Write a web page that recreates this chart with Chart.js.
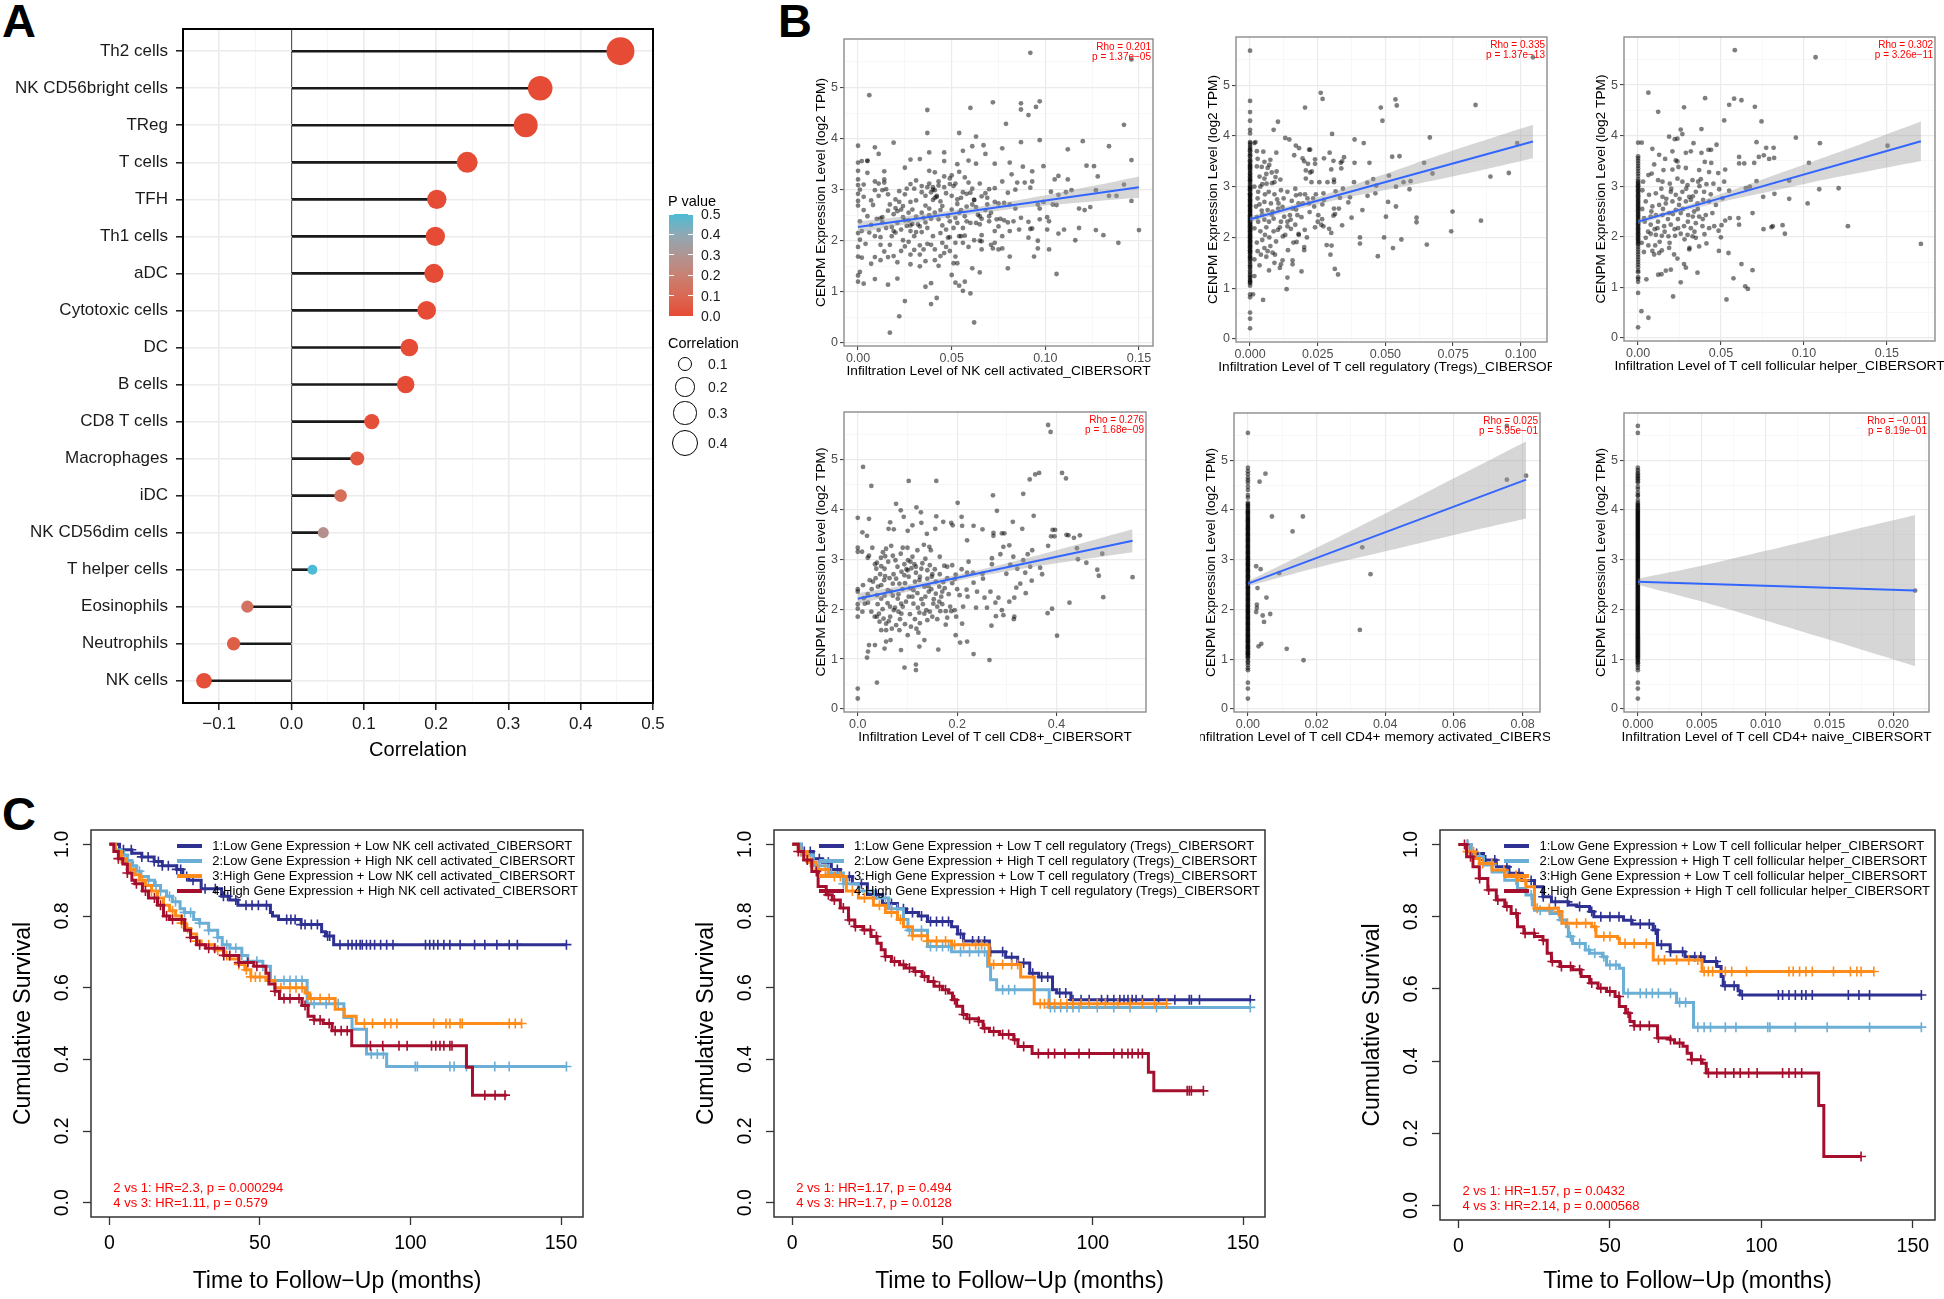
<!DOCTYPE html>
<html>
<head>
<meta charset="utf-8">
<title>CENPM immune infiltration</title>
<script src="https://cdn.jsdelivr.net/npm/chart.js@4.4.1/dist/chart.umd.min.js"></script>
<style>
  html, body { margin: 0; padding: 0; background: #fff; }
  body { position: relative; width: 1944px; height: 1299px; overflow: hidden;
         font-family: 'Liberation Sans', Arial, Helvetica, sans-serif; color: #000; }
  canvas { position: absolute; }
  .letter { position: absolute; font-size: 47px; font-weight: bold; line-height: 1; }
  .txt { position: absolute; white-space: nowrap; }
</style>
</head>
<body>
<div class="letter" style="left:2px;top:-3px">A</div>
<div class="letter" style="left:778px;top:-3px">B</div>
<div class="letter" style="left:2px;top:790px">C</div>
<script>
// ---------- A: correlation of CENPM with immune cell types
const cellTypes = ['Th2 cells', 'NK CD56bright cells', 'TReg', 'T cells', 'TFH', 'Th1 cells', 'aDC',
  'Cytotoxic cells', 'DC', 'B cells', 'CD8 T cells', 'Macrophages', 'iDC', 'NK CD56dim cells',
  'T helper cells', 'Eosinophils', 'Neutrophils', 'NK cells'];
const correlation = [0.455, 0.344, 0.324, 0.243, 0.201, 0.199, 0.197, 0.187, 0.163, 0.158, 0.111,
  0.091, 0.068, 0.044, 0.029, -0.061, -0.080, -0.121];
const pValue = [0, 0, 0, 0, 0, 0, 0, 0, 0, 0.001, 0.01, 0.03, 0.12, 0.28, 0.5, 0.14, 0.06, 0.01];
const pTicks = [0.5, 0.4, 0.3, 0.2, 0.1, 0.0];
const sizeBreaks = [0.1, 0.2, 0.3, 0.4];

// ---------- B: scatter plots, CENPM vs infiltration level
const nkActPts = [[.092,5.68],[.146,5.55],[.006,4.85],[.037,4.56],[.072,4.71],[.087,4.69],[.087,4.57],[.097,4.73],[.095,4.62],[.091,4.46],[.060,4.60],[.079,4.29],[.142,4.27],[.037,4.11],[.054,4.11],[.063,4.04],[.097,3.97],[.120,3.95],[.087,3.93],[.134,3.85],[0,3.86],[.009,3.83],[.019,3.92],[.011,3.70],[.038,3.73],[.046,3.73],[.061,3.85],[.067,3.87],[.068,3.70],[.077,3.81],[.112,3.79],[.056,3.76],[.053,3.50],[.059,3.57],[.033,3.60],[.028,3.59],[.002,3.56],[.005,3.56],[0,3.53],[.025,3.43],[.046,3.56],[.063,3.51],[.073,3.51],[.081,3.53],[.099,3.46],[.122,3.47],[.126,3.46],[.146,3.58],[.088,3.45],[.093,3.36],[.128,3.26],[.142,3.10],[.138,2.88],[.146,2.78],[.134,2.88],[.150,2.21],[.139,1.96],[.131,2.11],[.127,2.21],[.118,2.25],[.116,2.01],[.124,2.66],[.121,2.60],[.118,2.63],[.127,2.99],[.114,2.99],[.111,2.95],[.112,3.20],[.107,3.27],[.105,3.20],[.103,2.96],[.107,2.90],[.106,2.70],[.104,2.71],[.101,2.46],[.102,2.38],[.101,2.22],[.107,2.14],[.110,2.22],[.106,1.35],[.102,1.83],[.096,2.00],[.094,1.69],[.096,1.85],[.097,2.42],[.097,2.63],[.099,2.76],[.096,2.71],[.092,3.04],[.093,3.16],[.089,3.14],[.085,3.14],[.082,3.30],[.077,3.16],[.073,3.03],[.070,3.01],[.068,2.93],[.069,2.84],[.073,2.76],[.075,2.73],[.078,2.74],[.080,2.94],[.084,3.00],[.081,2.71],[.084,2.63],[.087,2.45],[.091,2.37],[.092,2.23],[.093,2.24],[.091,2.06],[.086,2.22],[.081,2.19],[.080,2.36],[.077,2.09],[.076,2.43],[.073,2.19],[.073,1.96],[.077,1.85],[.081,1.69],[.080,1.46],[.071,1.92],[.066,2.11],[.065,2.00],[.066,2.43],[.065,2.48],[.063,2.66],[.061,2.71],[.062,2.80],[.058,2.92],[.055,2.84],[.053,2.81],[.050,2.88],[.052,3.12],[.049,3.22],[.049,3.11],[.050,3.28],[.046,3.26],[.043,3.16],[.041,2.99],[.041,2.84],[.040,3.05],[.041,3.34],[.038,3.37],[.042,2.88],[.045,2.68],[.048,2.48],[.050,2.61],[.054,2.55],[.057,2.48],[.056,2.25],[.055,2.09],[.057,2.10],[.056,1.96],[.059,1.88],[.062,2.01],[.066,1.99],[.052,1.69],[.051,1.56],[.053,1.56],[.050,1.33],[.052,1.18],[.054,1.12],[.056,1.02],[.057,1.20],[.060,0.97],[.062,0.40],[.061,1.46],[.065,1.38],[.046,1.76],[.043,1.51],[.041,1.83],[.037,1.94],[.035,1.83],[.033,1.91],[.033,1.73],[.030,2.09],[.032,2.32],[.035,2.45],[.036,2.69],[.038,2.63],[.039,2.43],[.037,2.25],[.039,1.17],[.036,1.10],[.039,0.76],[.042,0.88],[.028,1.54],[.028,1.73],[.025,1.89],[.024,2.01],[.023,2.22],[.021,2.35],[.019,2.19],[.018,2.09],[.017,1.92],[.016,1.68],[.021,1.58],[.021,1.26],[.025,0.82],[.022,0.52],[.017,0.20],[.016,1.14],[.009,1.25],[.003,1.16],[.001,1.39],[0,1.32],[0,1.20],[0,1.69],[.002,1.67],[.009,1.68],[.004,1.94],[.009,2.09],[.012,2.07],[.012,1.92],[.014,1.79],[0,1.88],[0,2.15],[.002,2.19],[.001,2.38],[.006,2.16],[.007,2.31],[.010,2.43],[.012,2.44],[.013,2.46],[.016,2.59],[.019,2.52],[.021,2.58],[.023,2.61],[.024,2.68],[.022,2.76],[.020,2.81],[.016,2.91],[.013,2.99],[.007,2.79],[0,2.78],[0,2.69],[0,2.92],[0,3.09],[0,3.20],[0,3.37],[.003,3.10],[.005,3.33],[.005,3.57],[.009,3.16],[.011,3.12],[.014,3.14],[.014,3.20],[.014,3.36],[.009,2.99],[.015,3.01],[.025,2.91],[.022,2.97],[.026,3.02],[.028,3.11],[.031,3.18],[.030,3.02],[.034,3.07],[.040,3.00],[.042,2.86],[.031,2.79],[.028,2.76],[.029,2.61],[.027,2.55],[.028,2.30],[.025,2.40],[.034,2.17],[.044,2.15],[.045,1.96],[.048,2.06],[.040,2.09],[.039,1.92],[.031,2.17],[.028,2.19],[.011,2.21],[.018,2.27],[.051,3.07],[.054,3.35],[.057,3.24],[.059,3.14],[.060,2.94],[.062,2.80],[.064,2.51],[.069,2.71],[.070,2.48],[.070,2.38],[.065,2.32],[.063,2.35],[.060,2.35],[.058,2.38],[.053,2.35],[.051,2.25],[.049,2.07],[.052,1.96],[.054,2.09],[.066,1.83],[.072,1.85],[.075,1.83],[.075,2.28],[.078,2.40],[.083,2.38],
  [.024,2.46],[.027,2.40],[.029,2.33],[.033,2.28],[.036,2.36],[.038,2.50],[.041,2.55],[.043,2.42],[.045,2.30],[.047,2.22],[.049,2.38],[.052,2.45],[.055,2.60],[.058,2.67],[.044,2.77],[.047,2.93],[.039,2.95],[.036,2.88],[.034,2.95],[.043,3.08],[.046,3.05],[.037,3.05],[.038,3.12],[.040,2.80],[.044,2.60],[.034,2.55],[.031,2.47],[.026,2.29],[.020,2.16],[.015,2.25],[.013,2.36],[.005,2.48],[.003,2.60],[.008,2.70],[.011,2.88],[.017,2.71],[.020,2.64],[.053,2.72],[.056,2.95],[.061,3.02],[.065,3.12],[.066,2.87],[.068,2.60],[.071,2.55],[.074,2.42],[.047,1.88],[.049,1.80],[.044,1.70],[.041,1.62],[.036,1.60],[.033,1.50],[.030,1.82],[.027,1.98],[.023,1.80],[.019,1.70],[.012,1.62],[.007,1.55],[.001,2.02],[.003,2.86],[.001,3.00]];
const nkActZero = [];
const nkActFit = [[0, 2.27], [0.15, 3.05]];
const nkActBand = [[0, 2.16, 2.38], [0.025, 2.32, 2.48], [0.05, 2.465, 2.595], [0.075, 2.59, 2.73], [0.1, 2.69, 2.89], [0.125, 2.77, 3.07], [0.15, 2.84, 3.26]];
const nkActStat = ['Rho = 0.201', 'p = 1.37e\u221205'];

const tregPts = [[.0016,3.86],[.002,3.88],[.0049,3.69],[.0087,4.12],[.0103,4.28],[.013,3.96],[.0145,3.93],[.0097,3.67],[.0075,3.53],[.0071,3.43],[.0065,3.37],[.008,3.28],[.0098,3.30],[.0094,3.19],[.0053,3.49],[.0043,3.39],[.0028,3.55],[.0053,3.16],[.0061,3.06],[.0081,3.07],[.009,3.09],[.0112,3.14],[.0016,3.00],[.0038,3.00],[.003,2.90],[.0069,2.90],[.009,2.85],[.0114,2.93],[.0124,2.77],[.0105,2.67],[.0077,2.67],[.0053,2.70],[.0028,2.77],[.0022,2.61],[.0043,2.53],[.0065,2.54],[.0083,2.51],[.0104,2.57],[.0126,2.41],[.0147,2.44],[.0138,2.31],[.0114,2.31],[.0087,2.37],[.007,2.31],[.0053,2.35],[.003,2.31],[.0016,2.18],[.0038,2.12],[.0055,2.05],[.0071,2.00],[.0087,2.12],[.0103,2.15],[.0121,2.02],[.0096,1.92],[.0075,1.83],[.0053,1.79],[.0028,1.73],[.004,1.66],[.0065,1.73],[.0083,1.70],[.0092,1.66],[.0016,1.57],[.0048,0.77],[.0011,0.88],[.0016,1.24],[.0114,1.47],[.011,1.40],[.0138,1.21],[.0135,0.98],[.0157,1.55],[.0157,1.47],[.019,1.33],[.0172,1.91],[.020,1.81],[.020,1.75],[.0179,2.07],[.018,2.05],[.0138,2.22],[.0151,2.17],[.0167,2.25],[.0202,2.15],[.0175,2.44],[.0157,2.57],[.0179,2.67],[.0154,2.72],[.017,2.83],[.0138,2.90],[.0167,2.96],[.0185,2.85],[.0203,2.85],[.0212,2.77],[.0195,2.67],[.0218,2.67],[.0237,2.61],[.0233,2.77],[.0243,2.85],[.0256,3.09],[.0227,3.09],[.0206,3.16],[.0222,3.28],[.0228,3.30],[.0206,3.32],[.020,3.50],[.0214,3.45],[.0194,3.56],[.0181,3.76],[.0169,3.81],[.0163,3.62],[.0218,3.73],[.0222,3.73],[.024,3.54],[.024,3.45],[.0273,3.56],[.0294,3.67],[.0303,4.04],[.0203,4.56],[.0261,4.85],[.0268,4.73],[.0271,2.87],[.0286,3.09],[.030,3.34],[.0308,3.51],[.031,3.14],[.031,3.09],[.0316,2.91],[.0332,2.78],[.0343,2.96],[.0337,3.36],[.0335,3.47],[.0347,3.58],[.034,3.50],[.031,2.57],[.0308,2.43],[.0314,2.46],[.0267,2.65],[.0273,2.74],[.0252,2.44],[.025,2.31],[.0266,2.36],[.0271,2.22],[.0263,2.25],[.0292,2.17],[.030,2.09],[.0283,1.85],[.0301,1.84],[.0297,1.66],[.0313,1.38],[.0325,1.27],[.0328,2.57],[.034,2.24],[.0375,2.39],[.0363,2.69],[.0369,2.79],[.0384,3.09],[.0386,3.47],[.0386,3.93],[.042,3.86],[.0441,3.47],[.0433,3.08],[.0434,2.82],[.0415,2.54],[.0406,2.00],[.0406,1.88],[.0455,3.15],[.0466,3.02],[.0463,2.87],[.0472,1.63],[.0483,4.56],[.0489,4.30],[.0495,2.00],[.0502,2.41],[.051,2.70],[.0513,3.22],[.0525,3.59],[.0528,1.79],[.0537,4.72],[.0542,4.60],[.0539,3.00],[.0539,2.61],[.0552,3.60],[.0559,1.96],[.0567,3.09],[.0589,2.95],[.0593,3.11],[.0615,2.39],[.0615,2.30],[.0643,3.47],[.0653,1.86],[.0664,3.97],[.0674,3.26],[.0743,2.12],[.0748,2.51],[.0833,4.61],[.0853,2.33],[.0888,3.20],[.0956,3.27],[.0987,3.86],[.1045,5.55],
  [.0025,3.40],[.0035,3.20],[.0045,3.05],[.0055,2.85],[.0035,2.65],[.0045,2.45],[.0025,2.40],[.006,2.20],[.0045,1.95],[.0025,1.90],[.006,1.62],[.0035,1.45],[.008,2.45],[.010,2.75],[.012,2.60],[.006,3.25],[.0025,3.70],[.011,2.20],[.013,2.05],[.015,2.35],[.017,2.55],[.019,2.40],[.022,2.50],[.024,2.20],[.021,2.00],[.016,1.90],[.014,1.75],[.012,1.55],[.009,1.50],[.007,1.35]];
const tregZero = [5.68,4.69,4.47,4.30,4.12,4.05,3.88,3.86,3.82,3.78,3.75,3.72,3.70,3.65,3.62,3.60,3.55,3.52,3.50,3.47,3.44,3.42,3.40,3.38,3.36,3.33,3.31,3.27,3.25,3.23,3.20,3.18,3.15,3.13,3.12,3.10,3.06,3.03,3.00,2.98,2.96,2.95,2.93,2.90,2.87,2.85,2.84,2.82,2.80,2.78,2.75,2.74,2.72,2.70,2.68,2.65,2.63,2.62,2.60,2.58,2.55,2.54,2.52,2.50,2.48,2.45,2.44,2.42,2.40,2.38,2.35,2.34,2.32,2.30,2.28,2.25,2.24,2.22,2.20,2.18,2.15,2.14,2.12,2.10,2.08,2.05,2.04,2.02,2.00,1.98,1.95,1.94,1.92,1.90,1.88,1.85,1.84,1.82,1.80,1.78,1.75,1.74,1.72,1.70,1.68,1.64,1.62,1.60,1.58,1.55,1.52,1.48,1.45,1.42,1.40,1.35,1.32,1.28,1.25,1.22,1.20,1.16,1.14,1.12,1.10,1.05,0.88,0.82,0.52,0.40,0.21];
const tregFit = [[0, 2.36], [0.1045, 3.89]];
const tregBand = [[0, 2.30, 2.42], [0.02, 2.59, 2.71], [0.04, 2.83, 3.07], [0.06, 3.04, 3.44], [0.08, 3.26, 3.80], [0.1045, 3.56, 4.22]];
const tregStat = ['Rho = 0.335', 'p = 1.37e\u221213'];

const tfhPts = [[.0583,5.69],[.107,5.55],[.0062,4.85],[.0121,4.47],[.0404,4.74],[.0277,4.56],[.0549,4.61],[.0579,4.73],[.0623,4.70],[.0704,4.57],[.0519,4.30],[.0744,4.28],[.0257,4.12],[.0267,4.03],[.0382,4.13],[.0187,3.98],[.0221,3.93],[.0237,3.94],[.0334,3.85],[.0473,3.82],[.0022,3.86],[.0086,3.74],[.0207,3.69],[.0318,3.69],[.0424,3.72],[.044,3.72],[.0382,3.66],[.0288,3.66],[.0127,3.62],[.0163,3.54],[.0227,3.51],[.0237,3.49],[.0402,3.48],[.0441,3.46],[.0714,3.87],[.0772,3.76],[.0817,3.76],[.0609,3.58],[.064,3.45],[.0609,3.45],[.070,3.46],[.0728,3.58],[.0758,3.61],[.079,3.54],[.082,3.56],[.0951,3.96],[.1096,3.85],[.103,3.46],[.1504,3.80],[.0525,3.33],[.0483,3.26],[.0428,3.28],[.0368,3.32],[.0288,3.36],[.0243,3.38],[.0207,3.33],[.0153,3.32],[.0097,3.43],[.0082,3.25],[.0062,3.22],[.003,3.09],[.0121,3.12],[.0147,3.09],[.0191,3.05],[.0237,3.15],[.0267,3.09],[.0298,3.02],[.0328,3.12],[.0362,3.09],[.0378,3.14],[.0412,3.04],[.0454,3.05],[.0489,2.94],[.0519,3.09],[.0549,2.91],[.065,2.96],[.0714,3.10],[.0674,2.99],[.0822,2.85],[.0754,2.79],[.0911,3.11],[.1092,2.94],[.1209,2.96],[.0911,2.75],[.1022,2.66],[.069,2.47],[.0605,2.37],[.0609,2.24],[.0553,2.37],[.0525,2.32],[.0503,2.23],[.0485,2.12],[.0499,1.99],[.0487,1.72],[.0545,1.68],[.0623,1.46],[.069,1.34],[.0575,1.18],[.0646,1.02],[.0662,0.97],[.0533,0.76],[.0756,2.15],[.0804,2.19],[.0812,2.21],[.0871,2.23],[.0885,2.06],[.1265,2.21],[.1705,1.86],[.0358,1.29],[.0288,1.39],[.0277,1.46],[.0257,1.10],[.0211,0.82],[.0197,1.35],[.0167,1.33],[.0141,1.26],[.0121,1.25],[.005,1.16],[.002,0.53],[.0062,0.40],[.0086,1.72],[.0097,1.65],[.0127,1.68],[.0143,1.73],[.0187,1.78],[.0217,1.65],[.0237,1.57],[.031,1.78],[.0308,1.75],[.0368,1.81],[.0412,1.87],[.0348,1.98],[.0328,2.01],[.0298,2.04],[.0257,2.06],[.0223,2.02],[.0183,2.01],[.0143,2.02],[.0107,2.04],[.0076,2.06],[.0046,1.98],[.0022,1.88],[.0062,1.83],[.0103,1.83],[.0076,2.24],[.0117,2.17],[.0157,2.21],[.0197,2.24],[.0241,2.17],[.0277,2.21],[.0318,2.17],[.0348,2.27],[.0388,2.21],[.0428,2.17],[.0459,2.21],[.0368,2.40],[.0408,2.43],[.0448,2.47],[.0338,2.50],[.0302,2.43],[.0257,2.47],[.0227,2.53],[.0187,2.47],[.0147,2.43],[.0107,2.43],[.0076,2.40],[.0036,2.37],[.0086,2.60],[.0127,2.63],[.0167,2.66],[.0207,2.70],[.0247,2.63],[.0288,2.70],[.0318,2.73],[.0358,2.66],[.0392,2.73],[.0428,2.70],[.0469,2.63],[.0509,2.76],[.0066,2.83],[.0107,2.86],[.0147,2.79],[.0197,2.89],[.0227,2.83],[.0267,2.89],[.0308,2.79],[.0348,2.89],[.0398,2.89],[.0438,2.84],[.0046,2.70],[.0026,2.92],
  [.0025,2.55],[.004,2.30],[.006,2.10],[.0035,1.70],[.008,2.50],[.012,2.30],[.015,2.55],[.018,2.35],[.021,2.45],[.024,2.35],[.027,2.55],[.030,2.30],[.033,2.40],[.036,2.55],[.039,2.35],[.014,2.95],[.017,2.75],[.020,2.95],[.025,2.75],[.029,2.95],[.033,2.80],[.037,3.00],[.010,2.15],[.016,2.10],[.022,2.15],[.028,1.95],[.034,2.10],[.040,2.05],[.013,1.90],[.019,1.88]];
const tfhZero = [3.86,3.59,3.55,3.50,3.45,3.40,3.35,3.30,3.25,3.20,3.14,3.10,3.07,3.05,3.02,3.00,2.97,2.95,2.92,2.90,2.87,2.85,2.82,2.80,2.77,2.75,2.72,2.70,2.67,2.65,2.62,2.60,2.57,2.55,2.52,2.50,2.47,2.45,2.42,2.40,2.37,2.35,2.32,2.30,2.27,2.25,2.22,2.20,2.17,2.15,2.12,2.10,2.07,2.05,2.02,2.00,1.97,1.95,1.92,1.90,1.87,1.85,1.80,1.75,1.70,1.65,1.60,1.55,1.50,1.45,1.40,1.33,1.30,1.20,1.17,1.11,0.89,0.21];
const tfhFit = [[0, 2.30], [0.1705, 3.89]];
const tfhBand = [[0, 2.25, 2.35], [0.03, 2.53, 2.63], [0.06, 2.76, 2.96], [0.09, 2.97, 3.31], [0.12, 3.18, 3.66], [0.1705, 3.50, 4.28]];
const tfhStat = ['Rho = 0.302', 'p = 3.26e\u221211'];

const cd8Pts = [[.383,5.69],[.388,5.55],[.0106,4.85],[.0273,4.47],[.1025,4.57],[.158,4.57],[.346,4.60],[.357,4.70],[.365,4.73],[.411,4.73],[.419,4.62],[.272,4.28],[.333,4.31],[.077,4.11],[.0865,3.98],[.118,4.04],[.127,3.94],[.201,4.13],[.280,3.97],[.354,3.87],[0,3.83],[.0226,3.81],[.0925,3.85],[.158,3.86],[.0652,3.74],[.172,3.75],[.188,3.73],[.209,3.85],[.210,3.67],[.191,3.68],[.062,3.61],[.0725,3.60],[.1005,3.57],[.110,3.68],[.128,3.73],[.156,3.61],[.233,3.67],[.251,3.60],[.0093,3.54],[.0186,3.47],[.139,3.51],[.220,3.38],[.273,3.47],[.273,3.53],[.290,3.52],[.295,3.52],[.312,3.75],[.331,3.61],[.392,3.59],[.397,3.59],[.389,3.46],[.396,3.46],[.420,3.49],[.424,3.48],[.435,3.43],[.447,3.48],[.383,3.27],[.441,3.22],[.492,3.11],[.460,2.93],[.443,3.00],[.482,2.79],[.485,2.67],[.553,2.64],[.494,2.24],[.426,2.13],[.401,1.47],[.391,2.01],[.382,1.92],[0,3.23],[0,3.15],[.0086,3.15],[.020,3.03],[.0226,3.07],[.0293,3.23],[.0386,2.93],[.0466,3.03],[.0506,3.14],[.057,3.21],[.0552,3.06],[.0672,3.27],[.0705,3.07],[.0758,2.98],[.0865,3.11],[.0905,3.23],[.100,3.23],[.106,2.95],[.114,2.90],[.110,3.05],[.120,3.18],[.133,3.29],[.144,3.25],[.136,3.01],[.147,3.18],[.165,3.05],[.174,2.87],[.180,2.85],[.190,2.88],[.197,2.69],[.209,2.80],[.220,2.73],[.223,2.95],[.232,2.73],[.251,2.71],[.270,2.90],[.270,3.02],[.287,3.10],[.293,3.25],[.305,3.28],[.313,3.05],[.307,2.89],[.299,2.71],[.321,2.81],[.333,2.98],[.342,3.10],[.351,3.18],[.347,2.85],[.337,2.73],[.367,2.83],[.371,2.70],[.350,2.57],[.338,2.32],[.327,2.51],[.319,2.43],[.315,2.23],[.305,2.15],[.290,1.98],[.283,2.23],[.277,2.13],[.267,2.35],[.260,2.03],[.269,1.67],[.278,1.86],[.293,1.88],[.314,1.80],[.238,2.03],[.240,2.35],[.233,2.53],[.219,2.39],[.221,2.25],[.212,2.05],[.198,1.85],[.195,1.98],[.188,1.96],[.186,2.05],[.177,1.96],[.166,1.96],[.164,2.15],[.157,2.31],[.152,2.11],[.145,1.95],[.138,1.98],[.134,1.91],[.124,1.93],[.121,2.03],[.112,2.11],[.110,2.25],[.1025,2.25],[.097,2.15],[.0905,2.05],[.0878,1.91],[.0818,1.95],[.0725,1.98],[.0652,1.85],[.0625,1.76],[.057,1.71],[.0519,1.81],[.0426,1.91],[.034,1.85],[.0273,1.95],[.0093,1.95],[0,2.01],[0,1.85],[0,2.10],[0,2.35],[0,2.40],[.0106,2.48],[.024,2.58],[.0306,2.55],[.0406,2.45],[.0472,2.48],[.0532,2.58],[.0605,2.38],[.0672,2.35],[.0705,2.51],[.0772,2.61],[.0838,2.51],[.0938,2.68],[.1005,2.78],[.1025,2.65],[.117,2.73],[.124,2.58],[.134,2.45],[.140,2.61],[.142,2.46],[.149,2.65],[.157,2.55],[.164,2.45],[.170,2.35],[.172,2.54],[.0346,2.90],[.0373,2.81],[.0472,2.86],[.0539,2.81],[.0612,2.95],[.0938,2.90],[.1011,2.98],[.117,2.85],[.128,2.81],[.140,2.78],[.150,2.70],[.014,2.11],[.0206,2.13],[.0386,2.28],[.0472,2.21],[.0539,2.27],[.0705,2.27],[.0805,2.21],[.0872,2.11],[.0386,1.85],[.0439,1.75],[.0472,1.58],[.057,1.58],[.0685,1.61],[.0772,1.68],[.0838,1.58],[.1005,1.48],[.107,1.65],[.118,1.61],[.122,1.53],[.134,1.38],[.124,1.25],[.117,0.89],[.117,0.78],[.094,0.83],[.087,1.18],[.066,1.38],[.057,1.35],[.0539,1.21],[.0346,1.28],[.0226,1.28],[.0206,1.15],[.0186,1.03],[.0386,0.53],[0,0.41],[0,0.21],[.162,1.19],[.177,1.69],[.180,1.83],[.206,1.33],[.220,1.35],[.233,1.10],[.265,0.98],[.197,1.48],[.210,1.71],[.255,2.23],[.252,2.61],[.315,1.85],
  [.060,2.12],[.065,2.05],[.075,2.03],[.082,2.30],[.090,2.40],[.095,2.52],[.105,2.42],[.112,2.38],[.120,2.32],[.128,2.20],[.131,2.10],[.136,2.25],[.143,2.35],[.148,2.40],[.153,2.20],[.160,2.05],[.168,2.25],[.175,2.42],[.183,2.30],[.190,2.52],[.195,2.60],[.200,2.40],[.205,2.28],[.180,2.62],[.165,2.70],[.155,2.80],[.145,2.88],[.130,2.92],[.125,2.65],[.115,2.55],[.108,2.82],[.098,2.80],[.088,2.75],[.080,2.85],[.072,2.70],[.064,2.62],[.055,2.66],[.045,2.70],[.036,2.62],[.028,2.40],[.020,2.30],[.012,2.22],[.040,2.10],[.050,2.00],[.085,1.80],[.095,1.70],[.105,1.90],[.115,1.80],[.125,1.72],[.140,1.78],[.150,1.85],[.160,1.80],[.170,2.10]];
const cd8Zero = [];
const cd8Fit = [[0, 2.21], [0.553, 3.37]];
const cd8Band = [[0, 2.10, 2.32], [0.1, 2.35, 2.49], [0.2, 2.57, 2.69], [0.3, 2.76, 2.92], [0.4, 2.92, 3.18], [0.553, 3.14, 3.60]];
const cd8Stat = ['Rho = 0.276', 'p = 1.68e\u221209'];

const cd4memPts = [[.0051,4.73],[.0034,4.57],[.007,3.87],[.016,3.87],[.013,3.57],[.0024,2.87],[.0037,2.81],[.0028,2.43],[.0091,2.73],[.0026,2.10],[.0026,2.03],[.0024,1.95],[.0054,2.24],[.0043,1.88],[.0065,1.91],[.0047,1.75],[.0031,1.26],[.0039,1.31],[.0113,1.21],[.0162,0.98],[.0326,1.59],[.0333,3.25],[.0357,2.71],[.0754,4.61],[.081,4.69],[.0754,5.69]];
const cd4memZero = [5.55,4.85,4.78,4.72,4.65,4.60,4.55,4.47,4.40,4.30,4.25,4.15,4.12,4.10,4.08,4.05,4.02,3.99,3.97,3.95,3.93,3.91,3.88,3.86,3.84,3.82,3.80,3.78,3.77,3.74,3.72,3.70,3.68,3.66,3.64,3.62,3.61,3.58,3.56,3.54,3.52,3.50,3.49,3.46,3.44,3.42,3.40,3.38,3.37,3.34,3.32,3.30,3.28,3.26,3.25,3.22,3.20,3.18,3.16,3.14,3.13,3.10,3.08,3.06,3.04,3.02,3.01,2.98,2.96,2.94,2.92,2.90,2.89,2.86,2.84,2.82,2.80,2.78,2.77,2.74,2.72,2.70,2.68,2.66,2.65,2.62,2.60,2.58,2.56,2.54,2.53,2.50,2.48,2.46,2.44,2.42,2.41,2.38,2.36,2.34,2.32,2.30,2.29,2.26,2.24,2.22,2.20,2.18,2.17,2.14,2.12,2.10,2.08,2.06,2.05,2.02,2.00,1.98,1.96,1.94,1.93,1.90,1.88,1.86,1.84,1.82,1.81,1.78,1.76,1.74,1.72,1.70,1.69,1.66,1.64,1.62,1.60,1.58,1.57,1.54,1.52,1.50,1.48,1.46,1.45,1.42,1.40,1.38,1.36,1.34,1.33,1.30,1.28,1.26,1.24,1.22,1.21,1.18,1.16,1.14,1.12,1.10,1.09,1.06,1.04,1.01,0.96,0.93,0.88,0.82,0.78,0.53,0.41,0.21];
const cd4memFit = [[0, 2.52], [0.081, 4.61]];
const cd4memBand = [[0, 2.47, 2.57], [0.02, 2.84, 3.24], [0.04, 3.17, 3.93], [0.06, 3.50, 4.64], [0.081, 3.83, 5.38]];
const cd4memStat = ['Rho = 0.025', 'p = 5.95e\u221201'];

const cd4naivePts = [[.0217, 2.38]];
const cd4naiveZero = [5.69,5.55,4.85,4.80,4.75,4.72,4.68,4.65,4.62,4.58,4.55,4.47,4.42,4.35,4.30,4.28,4.20,4.15,4.12,4.10,4.08,4.05,4.03,4.00,3.98,3.96,3.94,3.92,3.90,3.88,3.86,3.84,3.82,3.80,3.78,3.76,3.74,3.72,3.70,3.68,3.66,3.64,3.62,3.60,3.58,3.56,3.54,3.52,3.50,3.48,3.46,3.44,3.42,3.40,3.38,3.36,3.34,3.32,3.30,3.28,3.26,3.24,3.22,3.20,3.18,3.16,3.14,3.12,3.10,3.08,3.06,3.04,3.02,3.00,2.98,2.96,2.94,2.92,2.90,2.88,2.86,2.84,2.82,2.80,2.78,2.76,2.74,2.72,2.70,2.68,2.66,2.64,2.62,2.60,2.58,2.56,2.54,2.52,2.50,2.48,2.46,2.44,2.42,2.40,2.38,2.36,2.34,2.32,2.30,2.28,2.26,2.24,2.22,2.20,2.18,2.16,2.14,2.12,2.10,2.08,2.06,2.04,2.02,2.00,1.98,1.96,1.94,1.92,1.90,1.88,1.86,1.84,1.82,1.80,1.78,1.76,1.74,1.72,1.70,1.68,1.66,1.64,1.62,1.60,1.58,1.56,1.54,1.52,1.50,1.48,1.46,1.44,1.42,1.40,1.38,1.36,1.34,1.32,1.30,1.28,1.26,1.24,1.22,1.20,1.18,1.16,1.14,1.12,1.10,1.08,1.06,1.04,1.02,0.99,0.97,0.94,0.92,0.88,0.83,0.78,0.53,0.41,0.21];
const cd4naiveFit = [[0, 2.56], [0.0217, 2.38]];
const cd4naiveBand = [[0, 2.50, 2.62], [0.005, 2.16, 2.88], [0.01, 1.78, 3.18], [0.015, 1.39, 3.49], [0.0217, 0.86, 3.90]];
const cd4naiveStat = ['Rho = \u22120.011', 'p = 8.19e\u221201'];

// ---------- C: Kaplan-Meier curves, [time, survival] at each drop
const km1NK = [[0,1],[3.4,0.985],[7.5,0.975],[10.8,0.965],[14.9,0.952],[17.6,0.94],[22.4,0.93],[24.4,0.91],[26.4,0.90],[30.5,0.876],[37.3,0.855],[40,0.845],[42.7,0.83],[53.5,0.81],[54.2,0.80],[56.2,0.79],[63.7,0.776],[70.5,0.756],[71.8,0.744],[74.5,0.72],[151.8,0.72]];
const km2NK = [[0,1],[2,0.985],[4,0.97],[6,0.955],[7.5,0.94],[9,0.925],[10.5,0.91],[13,0.90],[15,0.885],[17,0.87],[19,0.855],[21,0.84],[23.5,0.82],[25,0.81],[28,0.79],[30,0.78],[33,0.76],[36,0.74],[37.5,0.72],[40,0.71],[44,0.69],[46,0.674],[51,0.66],[53.5,0.62],[65.7,0.555],[77.9,0.517],[80.6,0.484],[85.4,0.415],[92.1,0.38],[151.8,0.38]];
const km3NK = [[0,1],[2,0.98],[4,0.96],[5.5,0.945],[7,0.93],[8.5,0.915],[10,0.90],[12,0.885],[14,0.87],[16,0.85],[18,0.83],[20,0.815],[22,0.80],[24,0.78],[25.5,0.765],[27,0.75],[29,0.73],[30.5,0.72],[35,0.705],[38,0.69],[40,0.68],[43,0.665],[45,0.65],[47,0.63],[52,0.62],[55,0.60],[65,0.585],[66.5,0.57],[75,0.54],[78,0.52],[82,0.50],[136.9,0.50]];
const km4NK = [[0,1],[1.5,0.98],[3,0.96],[4.5,0.945],[6,0.92],[7.5,0.90],[8.5,0.89],[11,0.87],[13,0.85],[16,0.83],[18,0.80],[20,0.79],[25,0.76],[27,0.74],[29,0.72],[32,0.71],[38,0.69],[43,0.67],[48,0.66],[52,0.64],[53,0.61],[55,0.59],[56.5,0.57],[64,0.55],[66,0.52],[68,0.51],[71,0.50],[74,0.48],[80.5,0.438],[118.6,0.378],[120.6,0.30],[132,0.30]];
const cens1NK = [4.7,7.3,10.8,12.9,14.9,16.3,17.6,19.6,22.4,23.7,25.7,27.8,31.8,35.2,37.9,39.3,42,45.4,47.4,49.5,52.2,58.9,60.3,61.7,63.7,65,67.1,69.1,72.5,73.2,76.6,79.3,80.6,82,83.3,84,85.4,86.7,88.1,90.1,92.1,94.2,105,106.4,107.7,109.1,111.1,113.1,116.5,121.3,124.7,128.7,132.8,135.5,151.8];
const cens2NK = [5,8,10,13,15.5,17,20,22,25,27,30,33,36,39,42,44,46,49,51,55,58,60,62,64,68,72,76,87,89,91,101.6,102.3,113.1,114.5,118.6,128,132.8,151.8];
const cens3NK = [4,7,11,14,18,21,24,26,29,33,36,39,43,45.5,47,48.5,50,57,60,62,64,67,70,73,84.7,87.4,91.5,93.5,95.5,107.7,111.8,113.1,116.5,117.2,132.8,134.8,136.9];
const cens4NK = [3,6,9,12,15,17,19,21,24,27,30,33,35,38,40,43,46,49,55,58,60,63,65,68,70,73,75,77,79,86.7,90.8,96.2,98.9,107,108.4,109.8,111.1,113.1,113.8,124.7,128.1,131.4];
const nkLegend = ['1:Low Gene Expression + Low NK cell activated_CIBERSORT', '2:Low Gene Expression + High NK cell activated_CIBERSORT',
  '3:High Gene Expression + Low NK cell activated_CIBERSORT', '4:High Gene Expression + High NK cell activated_CIBERSORT'];
const nkStats = ['2 vs 1: HR=2.3, p = 0.000294', '4 vs 3: HR=1.11, p = 0.579'];

const km1Treg = [[0,1],[3,0.98],[7,0.96],[10,0.95],[13,0.93],[16,0.91],[20,0.89],[25,0.86],[30,0.835],[35,0.82],[38,0.81],[42,0.80],[45,0.785],[53,0.77],[55,0.75],[57,0.73],[65.6,0.70],[71,0.685],[75,0.669],[79,0.64],[82,0.63],[86.6,0.594],[88,0.585],[92.7,0.566],[152.4,0.566]];
const km2Treg = [[0,1],[3,0.97],[7,0.94],[12,0.92],[17,0.89],[22,0.87],[27,0.85],[32,0.82],[37,0.79],[38.5,0.76],[45,0.715],[53,0.70],[65,0.66],[66,0.622],[68,0.594],[85.5,0.545],[152.4,0.545]];
const km3Treg = [[0,1],[2,0.98],[5,0.95],[8,0.93],[12,0.91],[18,0.87],[22,0.85],[27,0.83],[31,0.81],[35,0.79],[37,0.77],[40,0.745],[45,0.73],[53,0.72],[65.5,0.665],[76,0.63],[80.5,0.555],[124.6,0.555]];
const km4Treg = [[0,1],[2,0.98],[3.8,0.956],[6.5,0.924],[8.6,0.882],[11.3,0.859],[13.3,0.845],[16,0.822],[18.7,0.789],[20.8,0.771],[23.5,0.761],[26.2,0.743],[28.2,0.724],[29.6,0.706],[30.9,0.687],[33,0.673],[35.7,0.664],[37.7,0.655],[40.5,0.645],[43.2,0.631],[45.2,0.617],[47.2,0.604],[50,0.594],[52,0.585],[53.3,0.566],[54.7,0.548],[56.7,0.525],[58.1,0.513],[62,0.506],[63.5,0.487],[65.6,0.478],[69,0.469],[73.7,0.455],[75.1,0.436],[79.8,0.416],[118.5,0.364],[120.3,0.312],[136.8,0.312]];
const cens1Treg = [4,6,9,12,15,19,23,28,33,37,40,43,46,48,50,52,56,60,62,64,66,70,73,77,80,83,85,89,91,93.4,96.1,98.8,102.9,104.9,107,109,110.4,111.7,113.1,114.4,116.5,121.9,127.3,132.1,132.8,135.5,152.4];
const cens2Treg = [5,9,13,17,22,27,31,33,35,39,43,46,48,50,52,56,59,62,64,70,72,74,85.9,87.3,89.3,91.4,93.4,95.4,101.5,107,112.4,121.2,152.4];
const cens3Treg = [3,6,9,11,14,16,20,24,29,33,36,40,43,45,48,51,54,57,61,63,67,70,73,75,82.5,83.9,85.2,87.3,89.3,91.4,93.4,96.1,98.8,101.5,104.2,108.3,112.4,116.5,120.5,124.6];
const cens4Treg = [2,5,8,12,14,17,19,21,24,26,28,31,34,37,39,41,44,47,49,51,54,57,59,62,64,67,70,72,74,77,81.9,85.2,87.3,90.7,95.4,98.8,107,109.7,111.7,113.1,115.1,116.5,131.4,132.1,132.8,136.8];
const tregLegend = ['1:Low Gene Expression + Low T cell regulatory (Tregs)_CIBERSORT', '2:Low Gene Expression + High T cell regulatory (Tregs)_CIBERSORT',
  '3:High Gene Expression + Low T cell regulatory (Tregs)_CIBERSORT', '4:High Gene Expression + High T cell regulatory (Tregs)_CIBERSORT'];
const tregStats = ['2 vs 1: HR=1.17, p = 0.494', '4 vs 3: HR=1.7, p = 0.0128'];

const km1Tfh = [[0,1],[4.1,0.975],[8.3,0.957],[12.5,0.938],[16.7,0.92],[20.9,0.90],[25.1,0.883],[27.9,0.855],[30.7,0.841],[36.3,0.832],[39.1,0.828],[43.3,0.814],[44.7,0.80],[54.5,0.79],[57.3,0.78],[64.3,0.763],[65.7,0.722],[69.9,0.703],[74.8,0.689],[81.1,0.676],[85.3,0.662],[86.7,0.634],[87.4,0.609],[92.3,0.595],[93,0.583],[152.8,0.583]];
const km2Tfh = [[0,1],[4.1,0.966],[8.3,0.943],[11.1,0.924],[15.3,0.901],[19.5,0.878],[22.3,0.86],[24.4,0.832],[25.1,0.818],[30.7,0.809],[33.5,0.791],[35.6,0.772],[36.3,0.745],[37.7,0.726],[41.9,0.708],[43.3,0.699],[47.5,0.689],[48.9,0.666],[53.1,0.657],[54.5,0.588],[72,0.562],[77.6,0.494],[152.8,0.494]];
const km3Tfh = [[0,1],[2.7,0.98],[5.5,0.961],[6.9,0.947],[11.1,0.929],[15.3,0.915],[19.5,0.901],[22.3,0.883],[25.1,0.823],[33,0.814],[34.2,0.782],[44,0.772],[45.4,0.745],[52.5,0.74],[53.1,0.726],[64.3,0.68],[80.4,0.648],[137.1,0.648]];
const km4Tfh = [[0,1],[2.7,0.966],[4.8,0.938],[6.9,0.906],[9.7,0.874],[12.5,0.846],[15.3,0.828],[17.4,0.809],[19.5,0.772],[21.6,0.754],[25.1,0.745],[27.9,0.735],[29.3,0.699],[30.7,0.676],[33.5,0.662],[37.7,0.653],[40.5,0.634],[43.3,0.616],[46.1,0.602],[48.9,0.593],[51.7,0.579],[53.1,0.551],[55.2,0.533],[56.6,0.51],[58,0.498],[65.7,0.464],[69.9,0.459],[71.3,0.45],[74.1,0.441],[75.5,0.422],[76.9,0.404],[80.4,0.394],[81.8,0.367],[118.9,0.277],[120.6,0.136],[132.9,0.136]];
const cens1Tfh = [3,6,9,12,16,20,24,28,32,36,40,44,47,50,53,57,60,63,65,67,70,74,78,80,85,88,91,93.7,105.6,107,109.1,111.2,113.3,114.7,116.8,128.7,132.2,135.7,152.8];
const cens2Tfh = [3,7,11,15,19,24,27,30,34,37,40,43,45,48,50,52,56,60,62,64,66,70,73,75,79,81.1,83.2,88.1,91.6,102.1,102.8,111.2,121.7,135.7,152.8];
const cens3Tfh = [3,5,8,11,15,19,22,26,30,33,36,39,42,45,48,50,55,58,62,66,68,72,76,79,81.1,82.5,83.9,88.1,90.2,95.1,109.1,110.5,112.6,114.7,116.8,123.8,129.4,131.5,132.9,137.1];
const cens4Tfh = [2,4,7,10,13,16,19,22,25,28,31,34,37,40,44,47,50,53,56,58,60,63,66,70,73,77,80,82.5,85.3,88.1,90.9,93,95.8,98.6,107,109.1,111.2,113.3,132.9];
const tfhLegend = ['1:Low Gene Expression + Low T cell follicular helper_CIBERSORT', '2:Low Gene Expression + High T cell follicular helper_CIBERSORT',
  '3:High Gene Expression + Low T cell follicular helper_CIBERSORT', '4:High Gene Expression + High T cell follicular helper_CIBERSORT'];
const tfhStats = ['2 vs 1: HR=1.57, p = 0.0432', '4 vs 3: HR=2.14, p = 0.000568'];

const kmColors = ['#2E3192', '#6BAED6', '#FF8C1A', '#A50F2D'];

// ---------- helpers
Chart.defaults.font.family = "'Liberation Sans', Arial, Helvetica, sans-serif";
Chart.defaults.color = '#000';

// box around the plotting area (ggplot panel border / R box())
Chart.register({
  id: 'frame',
  defaults: { color: '#000', width: 1 },
  afterDatasetsDraw(chart, args, opts) {
    const a = chart.chartArea, ctx = chart.ctx;
    ctx.save();
    ctx.strokeStyle = opts.color;
    ctx.lineWidth = opts.width;
    ctx.strokeRect(a.left, a.top, a.right - a.left, a.bottom - a.top);
    ctx.restore();
  }
});

function addCanvas(box, pad) {
  const c = document.createElement('canvas');
  const w = box[2] - box[0] + pad.l + pad.r;
  const h = box[3] - box[1] + pad.t + pad.b;
  const left = box[0] - pad.l, top = box[1] - pad.t;
  c.width = w; c.height = h;
  c.style.left = left + 'px'; c.style.top = top + 'px';
  c.style.width = w + 'px'; c.style.height = h + 'px';
  document.body.appendChild(c);
  return { canvas: c, left, top };
}
function addText(text, css) {
  const d = document.createElement('div');
  d.className = 'txt';
  d.textContent = text;
  d.style.cssText += css;
  document.body.appendChild(d);
  return d;
}
function baseOptions(pad) {
  return {
    responsive: false, devicePixelRatio: 1, animation: false, events: [],
    layout: { padding: { left: 0, top: pad.t, right: pad.r, bottom: 0 } },
    plugins: { legend: { display: false }, tooltip: { enabled: false } }
  };
}
// pin the axis sizes so that the chart area lands exactly on the box
const fixX = pad => s => { s.height = pad.b; s.paddingLeft = 0; s.paddingRight = 0; s.paddingTop = 0; s.paddingBottom = 0; };
const fixY = pad => s => { s.width = pad.l; s.paddingLeft = 0; s.paddingRight = 0; s.paddingTop = 0; s.paddingBottom = 0; };
const tickVal = c => (c && c.tick) ? c.tick.value : NaN;

// colour scale of panel A (Lab interpolation like ggplot)
function hex2rgb(h) { return [1, 3, 5].map(i => parseInt(h.substr(i, 2), 16)); }
function rgb2lab(rgb) {
  const f = c => { c /= 255; return c <= 0.04045 ? c / 12.92 : Math.pow((c + 0.055) / 1.055, 2.4); };
  const [R, G, B] = rgb.map(f);
  let X = (R * 0.4124 + G * 0.3576 + B * 0.1805) / 0.95047;
  let Y = R * 0.2126 + G * 0.7152 + B * 0.0722;
  let Z = (R * 0.0193 + G * 0.1192 + B * 0.9505) / 1.08883;
  const g = t => t > 0.008856 ? Math.cbrt(t) : 7.787 * t + 16 / 116;
  X = g(X); Y = g(Y); Z = g(Z);
  return [116 * Y - 16, 500 * (X - Y), 200 * (Y - Z)];
}
function lab2rgb(lab) {
  let Y = (lab[0] + 16) / 116, X = lab[1] / 500 + Y, Z = Y - lab[2] / 200;
  const h = t => t * t * t > 0.008856 ? t * t * t : (t - 16 / 116) / 7.787;
  X = h(X) * 0.95047; Y = h(Y); Z = h(Z) * 1.08883;
  const R = X * 3.2406 - Y * 1.5372 - Z * 0.4986;
  const G = -X * 0.9689 + Y * 1.8758 + Z * 0.0415;
  const B = X * 0.0557 - Y * 0.2040 + Z * 1.0570;
  const k = c => { c = c > 0.0031308 ? 1.055 * Math.pow(c, 1 / 2.4) - 0.055 : 12.92 * c; return Math.round(Math.max(0, Math.min(1, c)) * 255); };
  return 'rgb(' + k(R) + ',' + k(G) + ',' + k(B) + ')';
}
const labLow = rgb2lab(hex2rgb('#E64B35')), labHigh = rgb2lab(hex2rgb('#4DBBD5'));
function pColor(p) {
  const t = Math.max(0, Math.min(1, p / 0.5));
  return lab2rgb(labLow.map((v, i) => v + (labHigh[i] - v) * t));
}
const dotR = c => Math.sqrt(13 + 400 * Math.abs(c));
const signed = v => (v < -1e-9 ? '\u2212' + (-v).toFixed(1) : Math.abs(v).toFixed(1));

// ---------- panel A
(function () {
  const box = [183, 29, 653, 703];
  const pad = { l: 183, t: 14, r: 22, b: 60 };
  const { canvas } = addCanvas(box, pad);
  const isMajor = v => Math.abs(Math.round(v * 100)) % 10 === 0;
  const isZero = v => Math.abs(v) < 1e-9;
  const opts = baseOptions(pad);
  opts.plugins.frame = { color: '#000', width: 2 };
  opts.scales = {
    x: {
      type: 'linear', min: -0.15, max: 0.5, offset: false, beginAtZero: false,
      ticks: { stepSize: 0.05, autoSkip: false, maxRotation: 0, padding: 4, color: '#1a1a1a', font: { size: 17 },
        callback: v => (isMajor(v) && v > -0.12) ? signed(v) : '' },
      grid: {
        offset: false,
        color: c => isZero(tickVal(c)) ? '#5a5a5a' : (isMajor(tickVal(c)) ? '#EBEBEB' : '#F3F3F3'),
        lineWidth: c => isZero(tickVal(c)) ? 1.2 : (isMajor(tickVal(c)) ? 1.6 : 0.8),
        tickLength: 7, tickWidth: 1.5,
        tickColor: c => (isMajor(tickVal(c)) && tickVal(c) > -0.12) ? '#1a1a1a' : 'rgba(0,0,0,0)'
      },
      border: { display: false },
      title: { display: true, text: 'Correlation', color: '#000', font: { size: 20 }, padding: { top: 0, bottom: 1 } },
      afterFit: fixX(pad)
    },
    y: {
      type: 'linear', min: -0.6, max: 17.6, reverse: true, offset: false,
      ticks: { stepSize: 1, includeBounds: false, autoSkip: false, padding: 8, color: '#1a1a1a', font: { size: 17 },
        callback: v => cellTypes[v] !== undefined ? cellTypes[v] : '' },
      grid: { offset: false, color: '#EBEBEB', lineWidth: 1.6, tickLength: 7, tickWidth: 1.5, tickColor: '#1a1a1a' },
      border: { display: false },
      afterFit: fixY(pad)
    }
  };
  new Chart(canvas, {
    type: 'scatter',
    data: {
      datasets: [
        { type: 'bar', indexAxis: 'y', data: cellTypes.map((c, i) => ({ y: i, x: [0, correlation[i]] })),
          backgroundColor: '#1a1a1a', barThickness: 2, borderWidth: 0, order: 2 },
        { type: 'scatter', data: cellTypes.map((c, i) => ({ x: correlation[i], y: i })),
          pointRadius: correlation.map(dotR), pointBackgroundColor: pValue.map(pColor),
          pointBorderWidth: 0, order: 1 }
      ]
    },
    options: opts
  });

  // legends
  addText('P value', 'left:668px;top:193px;font-size:14.5px;line-height:17px;');
  const bar = document.createElement('div');
  const stops = [0, 0.1, 0.2, 0.3, 0.4, 0.5].map(p => pColor(p) + ' ' + (p * 200) + '%').join(',');
  bar.style.cssText = 'position:absolute;left:669px;top:214px;width:24px;height:102px;background:linear-gradient(to top,' + stops + ');';
  document.body.appendChild(bar);
  pTicks.forEach((v, k) => {
    const y = 214 + k * 20.4;
    addText(v.toFixed(1), 'left:701px;top:' + (y - 8) + 'px;font-size:14px;line-height:16px;color:#1a1a1a;');
    [669, 688].forEach(x => {
      const t = document.createElement('div');
      t.style.cssText = 'position:absolute;left:' + x + 'px;top:' + (y - 0.5) + 'px;width:5px;height:1px;background:#fff;';
      document.body.appendChild(t);
    });
  });
  addText('Correlation', 'left:668px;top:335px;font-size:14.5px;line-height:17px;');
  const keyY = [364, 387, 413, 443];
  sizeBreaks.forEach((c, k) => {
    const r = dotR(c);
    const d = document.createElement('div');
    d.style.cssText = 'position:absolute;box-sizing:border-box;left:' + (685 - r) + 'px;top:' + (keyY[k] - r) + 'px;width:' + (2 * r) +
      'px;height:' + (2 * r) + 'px;border:1.6px solid #000;border-radius:50%;background:#fff;';
    document.body.appendChild(d);
    addText(c.toFixed(1), 'left:708px;top:' + (keyY[k] - 8) + 'px;font-size:14px;line-height:16px;color:#1a1a1a;');
  });
})();

// ---------- panel B
function scatterPanel(o) {
  const [x0, y0, x1, y1] = o.box;
  const pad = { l: 36, t: 6, r: 14, b: 36 };
  const { canvas } = addCanvas(o.box, pad);
  const pts = o.pts.concat(o.zero.map(y => [0, y]));
  const majX = v => Math.abs(v / o.major - Math.round(v / o.major)) < 1e-6;
  const majY = v => Math.abs(v - Math.round(v)) < 1e-6;
  const grid = maj => ({
    color: c => maj(tickVal(c)) ? '#EBEBEB' : '#F4F4F4',
    lineWidth: c => maj(tickVal(c)) ? 1.2 : 0.6,
    tickLength: 4, tickWidth: 1,
    tickColor: c => maj(tickVal(c)) ? '#333' : 'rgba(0,0,0,0)'
  });
  const opts = baseOptions(pad);
  opts.plugins.frame = { color: '#8c8c8c', width: 1.4 };
  opts.scales = {
    x: {
      type: 'linear', min: o.xmin, max: o.xmax,
      ticks: { stepSize: o.minor, includeBounds: false, autoSkip: false, maxRotation: 0, padding: 1,
        color: '#4D4D4D', font: { size: 12.5 }, callback: v => majX(v) ? Math.abs(v).toFixed(o.dec) : '' },
      grid: grid(majX), border: { display: false }, afterFit: fixX(pad)
    },
    y: {
      type: 'linear', min: -0.06, max: 5.95,
      ticks: { stepSize: 0.5, includeBounds: false, autoSkip: false, padding: 2,
        color: '#4D4D4D', font: { size: 12.5 }, callback: v => majY(v) ? String(Math.round(v)) : '' },
      grid: grid(majY), border: { display: false },
      title: { display: true, text: 'CENPM Expression Level (log2 TPM)', color: '#000', font: { size: 13.7 }, padding: { top: 5, bottom: 0 } },
      afterFit: fixY(pad)
    }
  };
  new Chart(canvas, {
    type: 'scatter',
    data: {
      datasets: [
        { type: 'scatter', data: pts.map(p => ({ x: p[0], y: p[1] })), pointRadius: 2.4,
          pointBackgroundColor: 'rgba(0,0,0,0.5)', pointBorderWidth: 0, order: 3 },
        { type: 'line', data: o.band.map(b => ({ x: b[0], y: b[2] })), borderWidth: 0, borderColor: 'rgba(0,0,0,0)',
          pointRadius: 0, fill: '+1', backgroundColor: 'rgba(153,153,153,0.4)', tension: 0.3, order: 2 },
        { type: 'line', data: o.band.map(b => ({ x: b[0], y: b[1] })), borderWidth: 0, borderColor: 'rgba(0,0,0,0)',
          pointRadius: 0, fill: false, tension: 0.3, order: 2 },
        { type: 'line', data: o.fit.map(p => ({ x: p[0], y: p[1] })), borderColor: '#3366FF', borderWidth: 2,
          pointRadius: 0, fill: false, order: 1 }
      ]
    },
    options: opts
  });
  const st = document.createElement('div');
  st.className = 'txt';
  st.style.cssText += 'right:' + (1944 - (x1 - 2)) + 'px;top:' + (y0 + 3) + 'px;color:#f00;font-size:10px;line-height:10px;text-align:right;';
  st.innerHTML = o.stat.join('<br>');
  document.body.appendChild(st);
  const clip = document.createElement('div');
  clip.style.cssText = 'position:absolute;overflow:hidden;left:' + o.clip[0] + 'px;width:' + (o.clip[1] - o.clip[0]) +
    'px;top:' + (y1 + 15.5) + 'px;height:18px;';
  const sp = document.createElement('span');
  sp.textContent = o.xtitle;
  sp.style.cssText = 'position:absolute;top:0;left:' + ((x0 + x1) / 2 - o.clip[0]) + 'px;transform:translateX(-50%);white-space:nowrap;font-size:13.7px;line-height:18px;';
  clip.appendChild(sp);
  document.body.appendChild(clip);
}

scatterPanel({ box: [844, 39, 1153, 346], xmin: -0.0075, xmax: 0.1575, minor: 0.025, major: 0.05, dec: 2,
  pts: nkActPts, zero: nkActZero, fit: nkActFit, band: nkActBand, stat: nkActStat,
  xtitle: 'Infiltration Level of NK cell activated_CIBERSORT', clip: [780, 1220] });
scatterPanel({ box: [1236, 37, 1547, 342], xmin: -0.0052, xmax: 0.1097, minor: 0.0125, major: 0.025, dec: 3,
  pts: tregPts, zero: tregZero, fit: tregFit, band: tregBand, stat: tregStat,
  xtitle: 'Infiltration Level of T cell regulatory (Tregs)_CIBERSORT', clip: [1176, 1552] });
scatterPanel({ box: [1624, 37, 1935, 341], xmin: -0.0085, xmax: 0.179, minor: 0.025, major: 0.05, dec: 2,
  pts: tfhPts, zero: tfhZero, fit: tfhFit, band: tfhBand, stat: tfhStat,
  xtitle: 'Infiltration Level of T cell follicular helper_CIBERSORT', clip: [1570, 1944] });
scatterPanel({ box: [844, 412, 1146, 712], xmin: -0.0277, xmax: 0.58, minor: 0.1, major: 0.2, dec: 1,
  pts: cd8Pts, zero: cd8Zero, fit: cd8Fit, band: cd8Band, stat: cd8Stat,
  xtitle: 'Infiltration Level of T cell CD8+_CIBERSORT', clip: [780, 1210] });
scatterPanel({ box: [1234, 413, 1540, 712], xmin: -0.00405, xmax: 0.08505, minor: 0.01, major: 0.02, dec: 2,
  pts: cd4memPts, zero: cd4memZero, fit: cd4memFit, band: cd4memBand, stat: cd4memStat,
  xtitle: 'Infiltration Level of T cell CD4+ memory activated_CIBERSORT', clip: [1200, 1550] });
scatterPanel({ box: [1624, 413, 1929, 712], xmin: -0.001085, xmax: 0.02279, minor: 0.0025, major: 0.005, dec: 3,
  pts: cd4naivePts, zero: cd4naiveZero, fit: cd4naiveFit, band: cd4naiveBand, stat: cd4naiveStat,
  xtitle: 'Infiltration Level of T cell CD4+ naive_CIBERSORT', clip: [1570, 1944] });

// ---------- panel C
function survivalAt(steps, t) {
  let s = steps[0][1];
  for (const [tt, ss] of steps) { if (tt <= t) s = ss; else break; }
  return s;
}
function kmPanel(o) {
  const [x0, y0, x1, y1] = o.box;
  const pad = { l: 91, t: 22, r: o.padR, b: 1299 - y1 };
  const { canvas, left, top } = addCanvas(o.box, pad);
  const datasets = [];
  o.steps.forEach((st, i) => {
    datasets.push({ type: 'line', data: st.map(p => ({ x: p[0], y: p[1] })), stepped: 'before',
      borderColor: kmColors[i], borderWidth: 3, pointRadius: 0, fill: false, order: 8 - 2 * i });
    datasets.push({ type: 'scatter', data: o.cens[i].map(t => ({ x: t, y: survivalAt(st, t) })),
      pointStyle: 'cross', pointRadius: 5, pointBorderColor: kmColors[i], pointBackgroundColor: kmColors[i],
      pointBorderWidth: 1.6, order: 7 - 2 * i });
  });
  const opts = baseOptions(pad);
  opts.plugins.frame = { color: '#333', width: 1.5 };
  const axisGrid = { drawOnChartArea: false, tickLength: 8, tickWidth: 1.3, tickColor: '#333' };
  opts.scales = {
    x: {
      type: 'linear', min: -6.08, max: 157.3,
      ticks: { stepSize: 50, includeBounds: false, autoSkip: false, maxRotation: 0, padding: 7, color: '#000', font: { size: 19.5 } },
      grid: axisGrid, border: { display: false },
      title: { display: true, text: 'Time to Follow\u2212Up (months)', color: '#000', font: { size: 23 }, padding: { top: 0, bottom: 4 } },
      afterFit: fixX(pad)
    },
    y: {
      type: 'linear', min: -0.04, max: 1.04,
      ticks: { stepSize: 0.2, includeBounds: false, autoSkip: false, minRotation: 90, maxRotation: 90, crossAlign: 'center',
        padding: 7, color: '#000', font: { size: 19.5 }, callback: v => v.toFixed(1) },
      grid: axisGrid, border: { display: false },
      title: { display: true, text: 'Cumulative Survival', color: '#000', font: { size: 23 }, padding: { top: 10, bottom: 0 } },
      afterFit: fixY(pad)
    }
  };
  const chart = new Chart(canvas, { type: 'scatter', data: { datasets }, options: opts });

  const lg = document.createElement('div');
  lg.className = 'txt';
  lg.style.cssText += 'right:' + (1944 - (x1 - 5)) + 'px;top:' + (y0 + 7.5) + 'px;font-size:13px;line-height:15px;';
  o.legend.forEach((txt, i) => {
    const row = document.createElement('div');
    const sw = document.createElement('span');
    sw.style.cssText = 'display:inline-block;width:25px;height:4px;background:' + kmColors[i] + ';vertical-align:middle;margin-right:10px;';
    row.appendChild(sw);
    row.appendChild(document.createTextNode(txt));
    lg.appendChild(row);
  });
  document.body.appendChild(lg);

  const sx = left + chart.scales.x.getPixelForValue(0) + 4;
  const sy = top + chart.scales.y.getPixelForValue(0) - 22.5;
  const st = document.createElement('div');
  st.className = 'txt';
  st.style.cssText += 'left:' + sx + 'px;top:' + sy + 'px;color:#f00;font-size:13px;line-height:15px;';
  st.innerHTML = o.stats.join('<br>');
  document.body.appendChild(st);
}

kmPanel({ box: [91, 830, 583, 1217], padR: 20, steps: [km1NK, km2NK, km3NK, km4NK],
  cens: [cens1NK, cens2NK, cens3NK, cens4NK], legend: nkLegend, stats: nkStats });
kmPanel({ box: [774, 830, 1265, 1217], padR: 20, steps: [km1Treg, km2Treg, km3Treg, km4Treg],
  cens: [cens1Treg, cens2Treg, cens3Treg, cens4Treg], legend: tregLegend, stats: tregStats });
kmPanel({ box: [1440, 830, 1935, 1220], padR: 9, steps: [km1Tfh, km2Tfh, km3Tfh, km4Tfh],
  cens: [cens1Tfh, cens2Tfh, cens3Tfh, cens4Tfh], legend: tfhLegend, stats: tfhStats });
</script>
</body>
</html>
